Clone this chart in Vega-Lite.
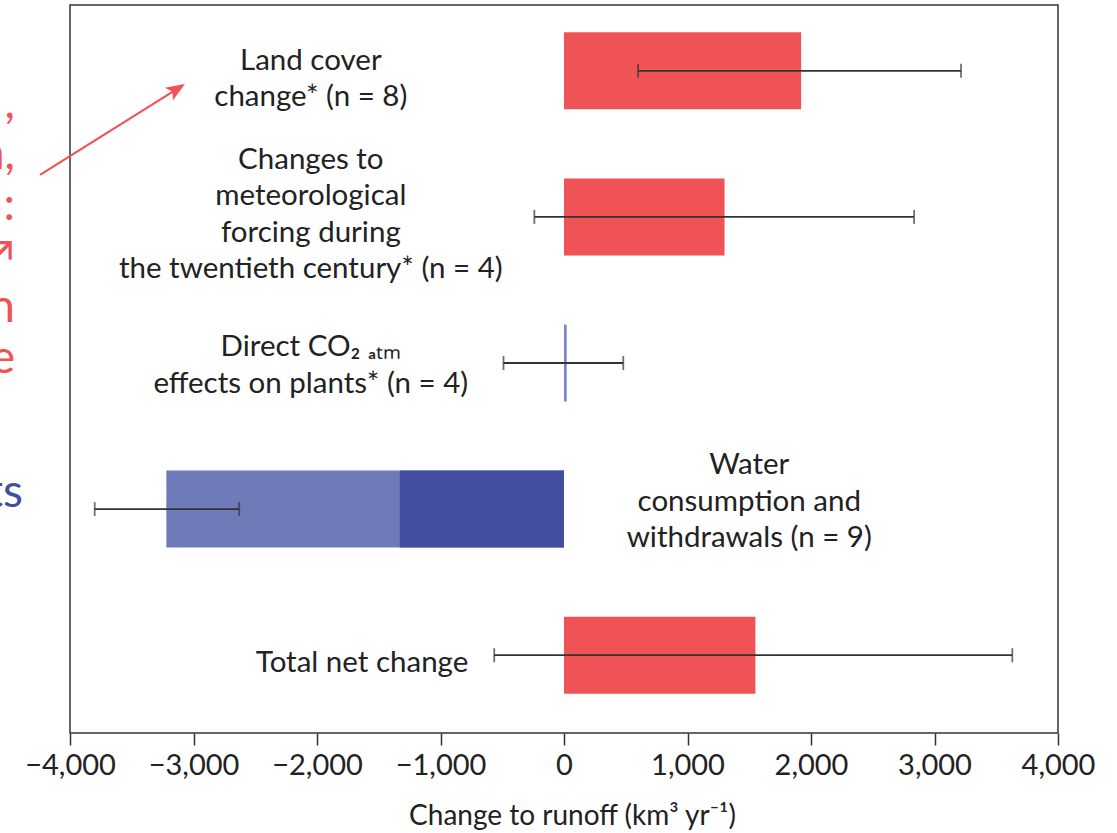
{
  "$schema": "https://vega.github.io/schema/vega-lite/v6.json",
  "width": 988,
  "height": 728,
  "autosize": {"type": "none"},
  "padding": {"left": 70, "top": 5, "right": 59, "bottom": 100},
  "background": "white",
  "config": {
    "view": {"stroke": "#333", "strokeWidth": 1.5},
    "font": "Lato"
  },
  "datasets": {
    "bars": [
      {"cat": "Land cover", "series": "increase", "value": 1920},
      {"cat": "Meteorological forcing", "series": "increase", "value": 1300},
      {"cat": "CO2", "series": "co2", "value": 22},
      {"cat": "Water", "series": "withdrawals", "value": -3220},
      {"cat": "Water", "series": "consumption", "value": -1330},
      {"cat": "Total", "series": "increase", "value": 1550}
    ],
    "errors": [
      {"cat": "Land cover", "low": 600, "high": 3215},
      {"cat": "Meteorological forcing", "low": -240, "high": 2835},
      {"cat": "CO2", "low": -490, "high": 480},
      {"cat": "Water", "low": -3800, "high": -2630},
      {"cat": "Total", "low": -565, "high": 3630}
    ],
    "labelsCenter": [
      {"cat": "Land cover", "lx": -2050, "text": ["Land cover", "change* (n = 8)"]},
      {"cat": "Meteorological forcing", "lx": -2050, "text": ["Changes to", "meteorological", "forcing during", "the twentieth century* (n = 4)"]},
      {"cat": "CO2", "lx": -2050, "text": ["Direct CO₂ ₐₜₘ", "effects on plants* (n = 4)"]},
      {"cat": "Water", "lx": 1500, "text": ["Water", "consumption and", "withdrawals (n = 9)"]}
    ],
    "labelsRight": [
      {"cat": "Total", "lx": -775, "text": "Total net change"}
    ],
    "noteRed": [
      {"cat": "Land cover", "lx": -4445, "text": [",", "n,", ":", "↗", "n ", "e"]}
    ],
    "noteBlue": [
      {"cat": "Water", "lx": -4381, "text": "ts"}
    ],
    "arrow": [
      {"cat": "Land cover", "x1": -4243, "x2": -3138}
    ]
  },
  "layer": [
    {
      "data": {"name": "bars"},
      "mark": {"type": "bar"},
      "encoding": {
        "y": {"field": "cat", "type": "nominal", "axis": null,
          "scale": {"domain": ["Land cover", "Meteorological forcing", "CO2", "Water", "Total"], "paddingInner": 0.473, "paddingOuter": 0.228, "align": 0.41}},
        "x": {"field": "value", "type": "quantitative", "stack": null,
          "scale": {"domain": [-4000, 4000], "nice": false, "zero": false},
          "title": "Change to runoff (km³ yr⁻¹)",
          "axis": {
            "values": [-4000, -3000, -2000, -1000, 0, 1000, 2000, 3000, 4000], "format": ",.0f",
            "domain": false, "grid": false, "tickSize": 12, "tickColor": "#333", "tickWidth": 1.5,
            "labelFont": "Lato", "labelFontSize": 29, "labelColor": "#222", "labelPadding": 6,
            "labelFlush": false, "labelOverlap": false,
            "titleFont": "Lato", "titleFontSize": 28, "titleFontWeight": "normal", "titleColor": "#222",
            "titlePadding": 22, "titleX": 502
          }},
        "color": {"field": "series", "type": "nominal", "legend": null,
          "scale": {"domain": ["increase", "co2", "withdrawals", "consumption"], "range": ["#EF5356", "#7B86CA", "#6F7AB8", "#434EA0"]}}
      }
    },
    {
      "data": {"name": "errors"},
      "mark": {"type": "rule", "color": "#333", "strokeWidth": 1.8},
      "encoding": {
        "y": {"field": "cat", "type": "nominal"},
        "x": {"field": "low", "type": "quantitative", "title": "Change to runoff (km³ yr⁻¹)"},
        "x2": {"field": "high"}
      }
    },
    {
      "data": {"name": "errors"},
      "mark": {"type": "tick", "color": "#333", "thickness": 1.8, "size": 14},
      "encoding": {
        "y": {"field": "cat", "type": "nominal"},
        "x": {"field": "low", "type": "quantitative", "title": "Change to runoff (km³ yr⁻¹)"}
      }
    },
    {
      "data": {"name": "errors"},
      "mark": {"type": "tick", "color": "#333", "thickness": 1.8, "size": 14},
      "encoding": {
        "y": {"field": "cat", "type": "nominal"},
        "x": {"field": "high", "type": "quantitative", "title": "Change to runoff (km³ yr⁻¹)"}
      }
    },
    {
      "data": {"name": "labelsCenter"},
      "transform": [{"filter": "datum.cat === 'Land cover'"}],
      "mark": {"type": "text", "align": "center", "baseline": "middle", "fontSize": 29.5, "lineHeight": 36.5, "color": "#222", "font": "Lato", "dy": -10},
      "encoding": {
        "y": {"field": "cat", "type": "nominal"},
        "x": {"field": "lx", "type": "quantitative", "title": "Change to runoff (km³ yr⁻¹)"},
        "text": {"field": "text", "type": "nominal"}
      }
    },
    {
      "data": {"name": "labelsCenter"},
      "transform": [{"filter": "datum.cat === 'Meteorological forcing'"}],
      "mark": {"type": "text", "align": "center", "baseline": "middle", "fontSize": 29.5, "lineHeight": 36.5, "color": "#222", "font": "Lato", "dy": -57},
      "encoding": {
        "y": {"field": "cat", "type": "nominal"},
        "x": {"field": "lx", "type": "quantitative", "title": "Change to runoff (km³ yr⁻¹)"},
        "text": {"field": "text", "type": "nominal"}
      }
    },
    {
      "data": {"name": "labelsCenter"},
      "transform": [{"filter": "datum.cat === 'CO2'"}],
      "mark": {"type": "text", "align": "center", "baseline": "middle", "fontSize": 29.5, "lineHeight": 36.5, "color": "#222", "font": "Lato", "dy": -16},
      "encoding": {
        "y": {"field": "cat", "type": "nominal"},
        "x": {"field": "lx", "type": "quantitative", "title": "Change to runoff (km³ yr⁻¹)"},
        "text": {"field": "text", "type": "nominal"}
      }
    },
    {
      "data": {"name": "labelsCenter"},
      "transform": [{"filter": "datum.cat === 'Water'"}],
      "mark": {"type": "text", "align": "center", "baseline": "middle", "fontSize": 29.5, "lineHeight": 36.5, "color": "#222", "font": "Lato", "dy": -44},
      "encoding": {
        "y": {"field": "cat", "type": "nominal"},
        "x": {"field": "lx", "type": "quantitative", "title": "Change to runoff (km³ yr⁻¹)"},
        "text": {"field": "text", "type": "nominal"}
      }
    },
    {
      "data": {"name": "labelsRight"},
      "mark": {"type": "text", "align": "right", "baseline": "middle", "fontSize": 29.5, "color": "#222", "font": "Lato", "dy": 8},
      "encoding": {
        "y": {"field": "cat", "type": "nominal"},
        "x": {"field": "lx", "type": "quantitative", "title": "Change to runoff (km³ yr⁻¹)"},
        "text": {"field": "text", "type": "nominal"}
      }
    },
    {
      "data": {"name": "noteRed"},
      "mark": {"type": "text", "align": "right", "baseline": "alphabetic", "fontSize": 46, "lineHeight": 51, "color": "#EF5356", "font": "Lato", "dy": 47},
      "encoding": {
        "y": {"field": "cat", "type": "nominal"},
        "x": {"field": "lx", "type": "quantitative", "title": "Change to runoff (km³ yr⁻¹)"},
        "text": {"field": "text", "type": "nominal"}
      }
    },
    {
      "data": {"name": "noteBlue"},
      "mark": {"type": "text", "align": "right", "baseline": "alphabetic", "fontSize": 46, "color": "#434EA0", "font": "Lato", "dy": -2},
      "encoding": {
        "y": {"field": "cat", "type": "nominal"},
        "x": {"field": "lx", "type": "quantitative", "title": "Change to runoff (km³ yr⁻¹)"},
        "text": {"field": "text", "type": "nominal"}
      }
    },
    {
      "data": {"name": "arrow"},
      "mark": {"type": "rule", "color": "#EF5356", "strokeWidth": 2.2, "yOffset": 104, "y2Offset": 18.5},
      "encoding": {
        "y": {"field": "cat", "type": "nominal"},
        "y2": {"field": "cat"},
        "x": {"field": "x1", "type": "quantitative", "title": "Change to runoff (km³ yr⁻¹)"},
        "x2": {"field": "x2"}
      }
    },
    {
      "data": {"name": "arrow"},
      "mark": {"type": "point", "shape": "M0,-1L0.75,0.9L0,0.45L-0.75,0.9Z", "filled": true, "opacity": 1, "color": "#EF5356", "size": 400, "angle": 58, "yOffset": 18.5, "strokeWidth": 0},
      "encoding": {
        "y": {"field": "cat", "type": "nominal"},
        "x": {"field": "x2", "type": "quantitative", "title": "Change to runoff (km³ yr⁻¹)"}
      }
    }
  ]
}
